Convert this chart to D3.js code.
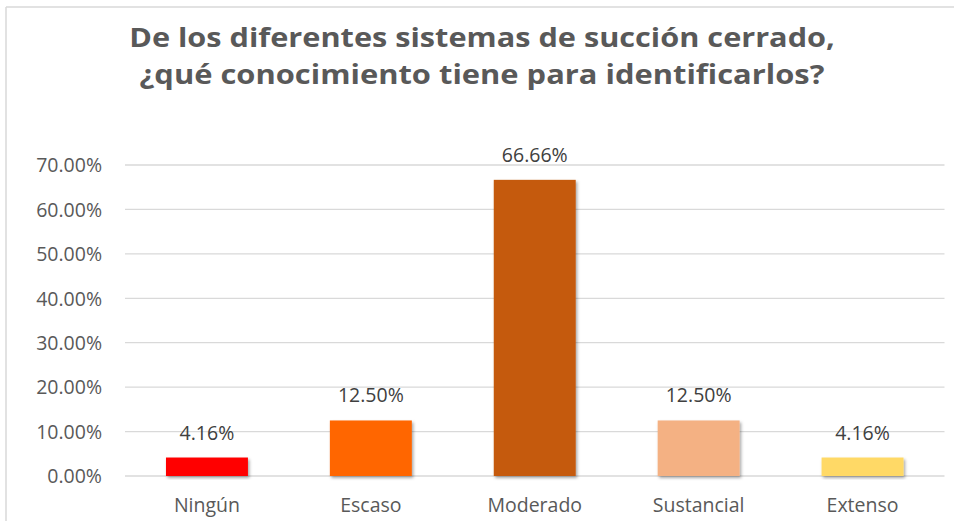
<!DOCTYPE html>
<html>
<head>
<meta charset="utf-8">
<script src="https://cdn.jsdelivr.net/npm/d3@7"></script>
<style>
html,body{margin:0;padding:0;background:#fff;}
svg{display:block;}
text{font-family:"Open Sans",sans-serif;}
</style>
</head>
<body>
<svg id="chart" width="954" height="521"></svg>
<script>
const titleLines = ["De los diferentes sistemas de succión cerrado,", "¿qué conocimiento tiene para identificarlos?"];
const categories = ["Ningún", "Escaso", "Moderado", "Sustancial", "Extenso"];
const values = [0.0416, 0.125, 0.6666, 0.125, 0.0416];
const valueLabels = ["4.16%", "12.50%", "66.66%", "12.50%", "4.16%"];
const colors = ["#FF0000", "#FF6600", "#C55A11", "#F4B183", "#FFD966"];
const yTicks = [0, 0.1, 0.2, 0.3, 0.4, 0.5, 0.6, 0.7];

const svg = d3.select("#chart");
const W = 954, H = 521;
const plot = {left: 125, right: 944.5, top: 165, bottom: 476};

// border of chart area
svg.append("line").attr("x1", 6).attr("x2", W).attr("y1", 7).attr("y2", 7)
  .attr("stroke", "#d9d9d9").attr("stroke-width", 1.5);
svg.append("line").attr("x1", 6).attr("x2", 6).attr("y1", 7).attr("y2", H)
  .attr("stroke", "#d9d9d9").attr("stroke-width", 1.5);

const defs = svg.append("defs");
const f = defs.append("filter").attr("id", "shadow").attr("x", "-20%").attr("y", "-20%").attr("width", "140%").attr("height", "140%");
f.append("feDropShadow").attr("dx", 1.5).attr("dy", 2).attr("stdDeviation", 1.6)
  .attr("flood-color", "#000").attr("flood-opacity", 0.35);

const x = d3.scaleBand().domain(categories).range([plot.left, plot.right]).paddingInner(0.5).paddingOuter(0.25);
const y = d3.scaleLinear().domain([0, 0.7]).range([plot.bottom, plot.top]);

// gridlines
svg.append("g").selectAll("line").data(yTicks).join("line")
  .attr("x1", plot.left).attr("x2", plot.right)
  .attr("y1", d => y(d)).attr("y2", d => y(d))
  .attr("stroke", "#d9d9d9").attr("stroke-width", 1.3);

// y axis labels
const yAxis = d3.axisLeft(y).tickValues(yTicks).tickFormat(d3.format(".2%")).tickSize(0).tickPadding(0);
const ya = svg.append("g").attr("transform", `translate(102,0)`).call(yAxis);
ya.select(".domain").remove();
ya.selectAll("text").attr("font-family", "Open Sans").attr("font-size", 19.5).attr("fill", "#595959").attr("dy", "0.35em");

// x axis labels
const xAxis = d3.axisBottom(x).tickSize(0).tickPadding(0);
const xa = svg.append("g").attr("transform", `translate(0,512)`).call(xAxis);
xa.select(".domain").remove();
xa.selectAll("text").attr("font-family", "Open Sans").attr("font-size", 19.5).attr("fill", "#595959").attr("dy", 0).attr("y", 0);

// bars
svg.append("g").selectAll("rect").data(values).join("rect")
  .attr("x", (d, i) => x(categories[i]))
  .attr("width", x.bandwidth())
  .attr("y", d => y(d))
  .attr("height", d => y(0) - y(d))
  .attr("fill", (d, i) => colors[i])
  .attr("filter", "url(#shadow)");

// value labels
svg.append("g").selectAll("text").data(values).join("text")
  .attr("x", (d, i) => x(categories[i]) + x.bandwidth() / 2)
  .attr("y", d => y(d) - 18)
  .attr("text-anchor", "middle")
  .attr("font-size", 19.5)
  .attr("fill", "#404040")
  .text((d, i) => valueLabels[i]);

// title
const targetWidths = [706, 685];
const baselines = [47, 84];
titleLines.forEach((t, i) => {
  const g = svg.append("g").attr("transform", `translate(482,${baselines[i]})`);
  const tx = g.append("text").attr("text-anchor", "middle").attr("font-size", 27)
    .attr("font-weight", "bold").attr("fill", "#595959").text(t);
  const w = tx.node().getComputedTextLength();
  tx.attr("transform", `scale(${targetWidths[i] / w},1)`);
});
</script>
</body>
</html>
